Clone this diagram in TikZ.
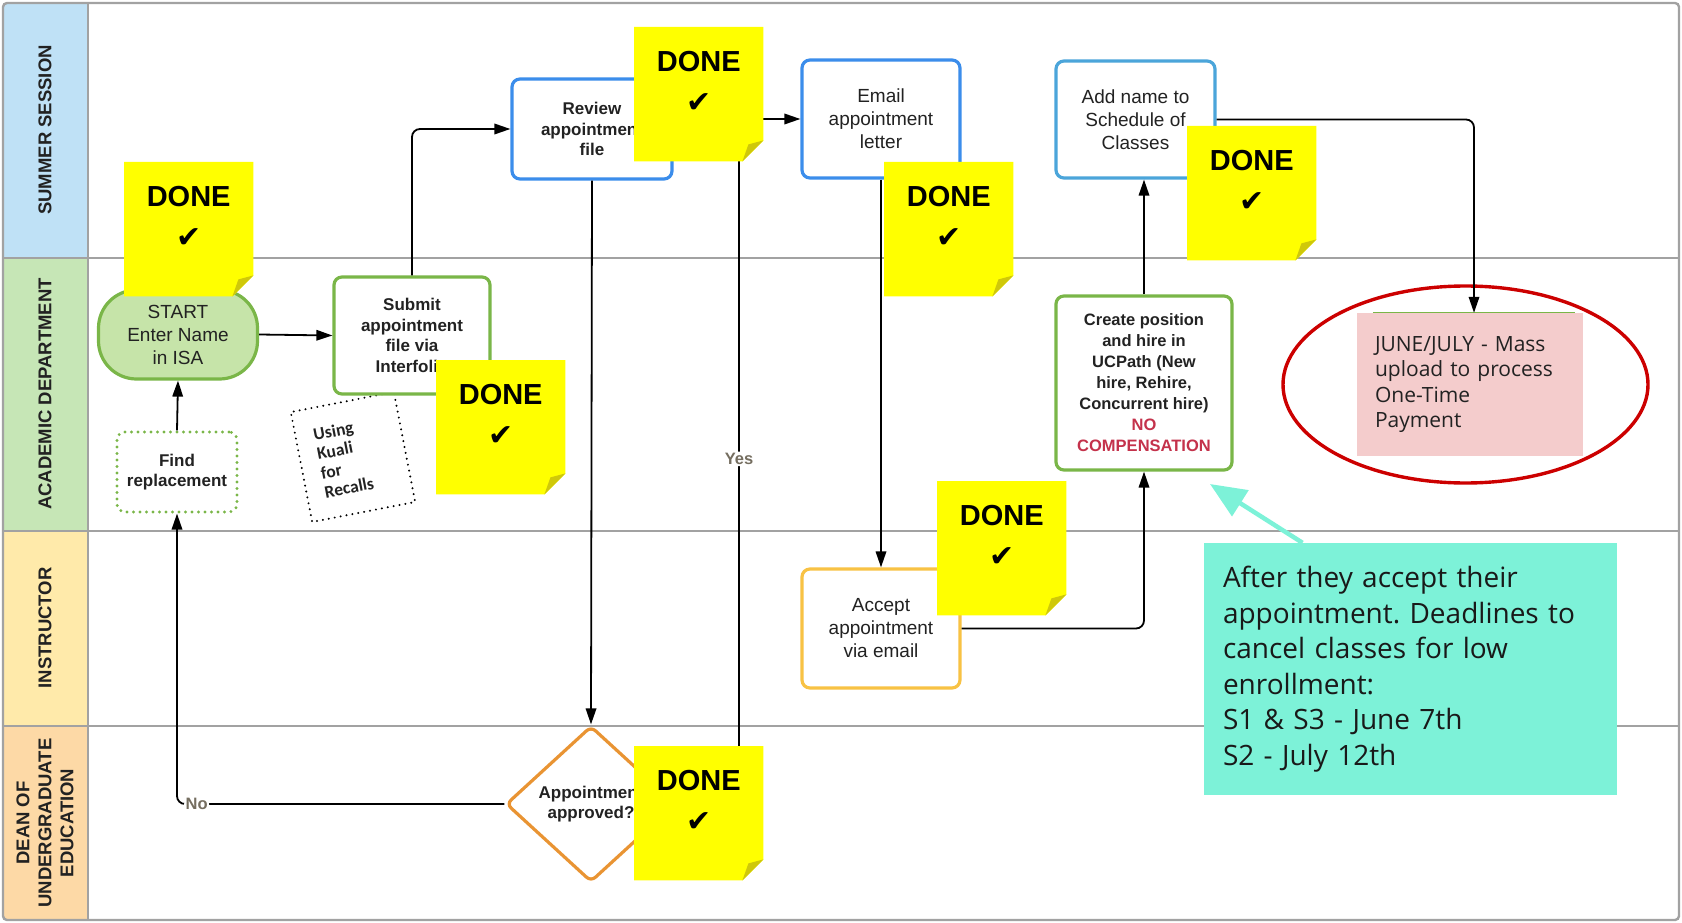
\documentclass[tikz,border=0pt]{standalone}
\usepackage{fontspec}
\setmainfont{Liberation Sans}
\newfontfamily\opensans{Open Sans}
\newfontfamily\carlito{Carlito}
\newfontfamily\dejavu{DejaVu Sans}
\usetikzlibrary{shapes.geometric,arrows.meta}
\frenchspacing
\definecolor{lanesummer}{HTML}{BFE1F6}
\definecolor{laneacad}{HTML}{C6E6B6}
\definecolor{laneinst}{HTML}{FFEAAA}
\definecolor{lanedean}{HTML}{FDD9A6}
\definecolor{lanegray}{HTML}{A2A2A2}
\definecolor{bblue}{HTML}{3B8DEB}
\definecolor{lblue}{HTML}{4BA5DA}
\definecolor{bgreen}{HTML}{7AB648}
\definecolor{startfill}{HTML}{C6E4A9}
\definecolor{borange}{HTML}{E99433}
\definecolor{byellow}{HTML}{F8C244}
\definecolor{noteyellow}{HTML}{FFFF00}
\definecolor{notefold}{HTML}{CFC80A}
\definecolor{nored}{HTML}{C4324B}
\definecolor{lblgray}{HTML}{756E60}
\definecolor{pinkfill}{HTML}{F4CCCC}
\definecolor{ellred}{HTML}{CC0000}
\definecolor{tealc}{HTML}{7DF2D8}
\definecolor{txt}{HTML}{222222}
\newcommand\donenote[3]{%
  \node[notebox, anchor=north west] (#1) at (#2,#3) {};
  \fill[noteyellow] (#1.north west) -- (#1.north east) -- ([yshift=21pt]#1.south east) -- ([xshift=-21pt]#1.south east) -- (#1.south west) -- cycle;
  \fill[notefold] ([xshift=-21pt]#1.south east) -- ([xshift=-15pt,yshift=17pt]#1.south east) -- ([yshift=21pt]#1.south east) -- cycle;
  \node[donetext] (#1d) at ([yshift=-35pt]#1.north) {DONE};
  \node[checktext] (#1c) at ([yshift=-76pt]#1.north) {✔};
}
\begin{document}
\begin{tikzpicture}[x=1pt,y=-1pt,
  laneline/.style={draw=lanegray, line width=2.4pt},
  lanelabel/.style={rotate=90, align=center, font=\fontsize{18.5}{22}\selectfont\bfseries, text=txt},
  box/.style={rectangle, rounded corners=8pt, line width=3.2pt, fill=white, inner sep=2pt, align=center, text=txt},
  normtxt/.style={font=\fontsize{19}{23}\selectfont},
  boldtxt/.style={font=\fontsize{17}{20.5}\selectfont\bfseries},
  arrow/.style={line width=1.8pt, -{Triangle[length=16pt,width=10.5pt]}},
  lbl/.style={fill=white, text=lblgray, font=\fontsize{16.5}{16.5}\selectfont\bfseries, inner sep=1.5pt},
  notebox/.style={rectangle, minimum width=129pt, minimum height=134pt, inner sep=0pt},
  donetext/.style={font=\fontsize{29}{29}\selectfont\bfseries, inner sep=0pt},
  checktext/.style={font=\dejavu\fontsize{30}{30}\selectfont, inner sep=0pt},
  tealarrow/.style={draw=tealc, line width=4.5pt, -{Triangle[length=36pt,width=30pt]}}
]
\useasboundingbox (0,0) rectangle (1682,923);
% lanes
\fill[lanesummer] (3,3) rectangle (88,258);
\fill[laneacad] (3,258) rectangle (88,531);
\fill[laneinst] (3,531) rectangle (88,726);
\fill[lanedean] (3,726) rectangle (88,920);
\draw[laneline] (3,258) -- (1679,258);
\draw[laneline] (3,531) -- (1679,531);
\draw[laneline] (3,726) -- (1679,726);
\draw[laneline] (88,3) -- (88,920);
\draw[laneline, rounded corners=4pt] (3,3) rectangle (1679,920);
\node[lanelabel] (l1) at (45,130) {SUMMER SESSION};
\node[lanelabel] (l2) at (45,394) {ACADEMIC DEPARTMENT};
\node[lanelabel] (l3) at (45,628) {INSTRUCTOR};
\node[lanelabel] (l4) at (45,823) {DEAN OF\\UNDERGRADUATE\\EDUCATION};

% process nodes
\node[box, normtxt, draw=bgreen, fill=startfill, rounded corners=38pt, minimum width=159pt, minimum height=89pt] (start) at (178,334.5) {START\\Enter Name\\in ISA};
\node[box, boldtxt, draw=bgreen, dash pattern=on 0pt off 6.5pt, line cap=round, minimum width=120pt, minimum height=80pt] (find) at (177,472) {Find\\replacement};
\node[draw=black, line width=2.2pt, dash pattern=on 0pt off 6pt, line cap=round, rotate=11, minimum width=105pt, minimum height=112pt, text width=69pt, inner xsep=18pt, align=left, text=txt, font=\carlito\fontsize{17.5}{19.5}\selectfont\bfseries] (kuali) at (353,457) {Using\\Kuali\\for\\Recalls};
\node[box, boldtxt, draw=bgreen, minimum width=156pt, minimum height=117pt] (submit) at (412,335.5) {Submit\\appointment\\file via\\Interfolio};
\node[box, boldtxt, draw=bblue, minimum width=160pt, minimum height=100pt] (review) at (592,129) {Review\\appointment\\file};
\node[box, normtxt, draw=bblue, minimum width=158pt, minimum height=118pt] (email) at (881,119) {Email\\appointment\\letter};
\node[box, normtxt, draw=lblue, minimum width=159pt, minimum height=117pt] (add) at (1135.5,119.5) {Add name to\\Schedule of\\Classes};
\node[box, font=\fontsize{16.5}{21}\selectfont\bfseries, draw=bgreen, minimum width=176pt, minimum height=174pt] (create) at (1144,383) {Create position\\and hire in\\UCPath (New\\hire, Rehire,\\Concurrent hire)\\\textcolor{nored}{NO}\\\textcolor{nored}{COMPENSATION}};
\node[box, normtxt, draw=byellow, minimum width=158pt, minimum height=119pt] (accept) at (881,628.5) {Accept\\appointment\\via email};
\node[diamond, draw=borange, line width=3.2pt, rounded corners=6pt, fill=white, inner sep=0pt, minimum width=170pt, minimum height=156pt, align=center, text=txt, font=\fontsize{17}{20.5}\selectfont\bfseries] (dia) at (591,804) {Appointment\\approved?};
\node[rectangle, fill=pinkfill, minimum width=226pt, minimum height=143pt, text width=190pt, inner xsep=18pt, align=left, text=txt, font=\opensans\fontsize{21}{25.5}\selectfont] (june) at (1470,384.5) {JUNE/JULY - Mass\\upload to process\\One-Time\\Payment};
\draw[bgreen, line width=0.8pt] ([xshift=16pt]june.north west) -- ([xshift=-8pt]june.north east);
\node[ellipse, draw=ellred, line width=3.4pt, minimum width=365pt, minimum height=197pt, inner sep=0pt] (ell) at (1465.5,384.5) {};
\node[rectangle, fill=tealc, minimum width=413pt, minimum height=252pt, text width=375pt, inner xsep=19pt, align=left, text=black!90, font=\opensans\fontsize{28}{35.5}\selectfont] (teal) at (1410.5,669) {After they accept their\\appointment. Deadlines to\\cancel classes for low\\enrollment:\\S1 \& S3 - June 7th\\S2 - July 12th};

% connectors
\coordinate (yesx) at (739,804);
\coordinate (tealtip) at (1210,484);
\draw[arrow] (start.east) -- (submit.west);
\draw[arrow] (find.north) -- (start.south);
\draw[arrow, rounded corners=8pt] (submit.north) |- (review.west);
\draw[arrow] (review.south) -- (dia.north);
\draw[arrow, rounded corners=8pt] (dia.west) -| (find.south) node[lbl, pos=0.47] (nolbl) {No};
\draw[arrow, rounded corners=8pt] (dia.east) -- (yesx) |- (email.west) node[lbl, pos=0.252] (yeslbl) {Yes};
\draw[arrow] (email.south) -- (accept.north);
\draw[arrow, rounded corners=8pt] (accept.east) -| (create.south);
\draw[arrow] (create.north) -- (create.north |- add.south);
\draw[arrow, rounded corners=8pt] (add.east) -| ([xshift=4pt]june.north);
\draw[tealarrow] ([xshift=-108pt]teal.north) -- (tealtip);

% sticky notes
\donenote{n1}{124}{162}
\donenote{n2}{436}{360}
\donenote{n3}{634}{27}
\donenote{n4}{884}{162}
\donenote{n5}{1187}{126}
\donenote{n6}{937}{481}
\donenote{n7}{634}{746}
\end{tikzpicture}
\end{document}
